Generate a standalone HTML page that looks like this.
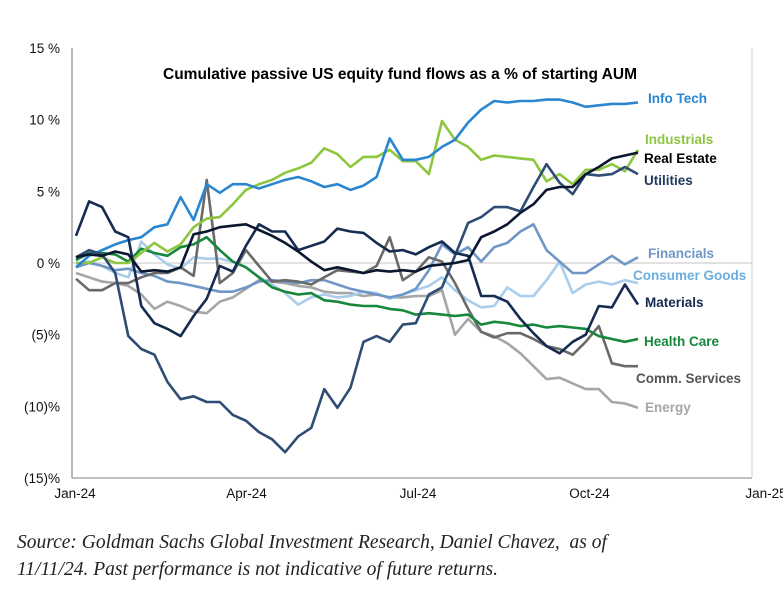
<!DOCTYPE html>
<html><head><meta charset="utf-8"><style>
body{margin:0;background:#fff;width:783px;height:607px;overflow:hidden;font-family:"Liberation Sans",sans-serif}
.src{position:absolute;left:17px;font-family:"Liberation Serif",serif;font-style:italic;font-size:19.5px;color:#222}
</style></head><body>
<svg id="chart" width="783" height="607" style="position:absolute;left:0;top:0"></svg>
<div class="src" style="top:532px">Source: Goldman Sachs Global Investment Research, Daniel Chavez,&nbsp; as of</div>
<div class="src" style="top:559px">11/11/24. Past performance is not indicative of future returns.</div>
<script>
const yTicks=[15,10,5,0,-5,-10,-15];
const yTickLabels=["15 %","10 %","5 %","0 %","(5)%","(10)%","(15)%"];
const xTicks=[0,1,2,3,4];
const xTickLabels=["Jan-24","Apr-24","Jul-24","Oct-24","Jan-25"];
const infoTech=[-0.3,0.5,0.9,1.3,1.6,1.8,2.5,2.7,4.6,3.0,5.5,4.9,5.5,5.5,5.2,5.5,5.8,6.0,5.7,5.3,5.5,5.1,5.4,6.0,8.7,7.2,7.2,7.4,8.1,8.6,9.8,10.7,11.3,11.2,11.3,11.3,11.4,11.4,11.2,10.9,11.0,11.1,11.1,11.2];
const industrials=[0,0,0.4,0,0,0.7,1.4,0.8,1.3,2.5,3.1,3.2,4.1,5.1,5.5,5.8,6.3,6.6,7.0,8.0,7.6,6.7,7.4,7.4,7.9,7.1,7.1,6.2,9.9,8.6,8.1,7.2,7.5,7.4,7.3,7.2,5.7,6.2,5.5,6.5,6.5,6.9,6.4,7.9];
const realEstate=[0.4,0.6,0.5,0.8,0.6,-0.6,-0.5,-0.6,-0.3,2.0,2.2,2.5,2.6,2.7,2.3,1.9,1.4,0.8,0.1,-0.5,-0.3,-0.5,-0.7,-0.5,-0.6,-0.5,-0.6,-0.2,-0.1,0,0.2,1.8,2.2,2.7,3.5,4.1,5.1,5.3,5.3,6.2,6.7,7.3,7.5,7.7];
const utilities=[0.4,0.9,0.6,-0.7,-5.1,-6.0,-6.4,-8.3,-9.5,-9.3,-9.7,-9.7,-10.6,-11.0,-11.8,-12.3,-13.2,-12.1,-11.5,-8.8,-10.1,-8.7,-5.5,-5.1,-5.5,-4.3,-4.2,-2.2,-1.7,0.5,2.8,3.2,3.9,3.9,3.6,5.3,6.9,5.6,4.8,6.2,6.1,6.2,6.7,6.2];
const financials=[-0.3,0,-0.2,-0.5,-0.4,-0.7,-0.9,-1.3,-1.4,-1.6,-1.8,-2.0,-2.0,-1.7,-1.3,-1.2,-1.3,-1.4,-1.2,-1.2,-1.5,-1.8,-2.0,-2.2,-2.4,-2.2,-1.8,-0.5,1.3,0.6,1.1,0.1,1.1,1.4,2.2,2.7,0.9,0.1,-0.7,-0.7,-0.1,0.5,-0.1,0.4];
const consumerGoods=[0,0.1,-0.2,-0.7,-1.0,1.5,0.6,-0.1,-0.4,0.4,0.3,0.3,0.1,-0.3,-1.0,-1.5,-2.1,-2.9,-2.4,-2.2,-2.4,-2.3,-2.0,-2.1,-2.5,-2.2,-1.9,-1.6,-1.0,-1.9,-2.6,-3.1,-3.0,-1.7,-2.3,-2.3,-1.2,0.1,-2.1,-1.5,-1.3,-1.5,-1.2,-1.4];
const materials=[1.9,4.3,3.9,2.2,1.8,-3.0,-4.2,-4.6,-5.1,-3.7,-2.5,-0.2,-0.6,1.2,2.7,2.2,2.2,0.9,1.2,1.5,2.4,2.2,2.1,1.4,0.8,0.9,0.6,1.1,1.5,0.7,0.5,-2.3,-2.3,-2.7,-3.9,-4.9,-5.8,-6.3,-5.5,-5.0,-3.0,-3.1,-1.5,-2.9];
const healthCare=[0.2,0.7,0.7,0.6,0.1,1.0,0.7,0.5,1.1,1.3,1.8,0.9,0.1,-0.3,-1.0,-1.7,-2.0,-2.2,-2.1,-2.6,-2.7,-2.9,-3.0,-3.0,-3.2,-3.3,-3.6,-3.5,-3.6,-3.7,-3.6,-4.3,-4.1,-4.2,-4.4,-4.3,-4.5,-4.4,-4.5,-4.6,-5.1,-5.3,-5.5,-5.3];
const commServices=[-1.1,-1.9,-1.9,-1.4,-1.4,-1.0,-0.7,-0.7,-0.3,-0.9,5.8,-1.4,-0.7,0.9,-0.2,-1.3,-1.2,-1.3,-1.5,-1.0,-0.5,-0.6,-0.7,-0.2,1.8,-1.2,-0.6,0.4,0.1,-1.4,-3.2,-4.8,-5.2,-4.9,-4.9,-5.3,-5.8,-6.0,-6.4,-5.5,-4.4,-7.0,-7.2,-7.2];
const energy=[-0.7,-1.0,-1.3,-1.4,-1.6,-2.2,-3.2,-2.7,-3.0,-3.4,-3.5,-2.7,-2.4,-1.8,-1.2,-1.3,-1.4,-1.6,-1.7,-2.0,-2.1,-2.1,-2.3,-2.2,-2.4,-2.4,-2.3,-2.3,-1.9,-5.0,-3.9,-4.8,-5.1,-5.6,-6.3,-7.2,-8.1,-8.0,-8.4,-8.8,-8.8,-9.7,-9.8,-10.1];

const svg=document.getElementById('chart');
const NS='http://www.w3.org/2000/svg';
const X0=72,X1=752,Y0=48,Y1=478;
const ys=v=>Y1-(v+15)/30*(Y1-Y0);
const xq=q=>75+q*171.5;
const xw=i=>76+i*13.07;
function mk(tag,attrs){const e=document.createElementNS(NS,tag);for(const k in attrs)e.setAttribute(k,attrs[k]);svg.appendChild(e);return e;}

const g0=mk('line',{x1:X0,x2:X1,y1:ys(0),y2:ys(0),stroke:'#d0d0d0','stroke-width':1.2});


const ya=mk('line',{x1:X0,x2:X0,y1:Y0,y2:Y1,stroke:'#888','stroke-width':1.2});


const xa=mk('line',{x1:X0,x2:X1,y1:Y1,y2:Y1,stroke:'#999','stroke-width':1.2});


const ra=mk('line',{x1:X1,x2:X1,y1:Y0,y2:Y1,stroke:'#ccc','stroke-width':1});



yTicks.forEach((v,i)=>{
  const t=mk('text',{x:60,y:ys(v)+5,'text-anchor':'end','font-size':13.5,fill:'#111','font-family':'Liberation Sans, sans-serif'});
  t.textContent=yTickLabels[i];
  
  
});
xTicks.forEach((q,i)=>{
  const t=mk('text',{x:xq(q)+(i===4?5:0),y:498,'text-anchor':'middle','font-size':13.5,fill:'#111','font-family':'Liberation Sans, sans-serif'});
  t.textContent=xTickLabels[i];
  
  
});

const title=mk('text',{x:400,y:79,'text-anchor':'middle','font-size':15.5,'font-weight':'bold',fill:'#000','font-family':'Liberation Sans, sans-serif'});
title.textContent='Cumulative passive US equity fund flows as a % of starting AUM';



const series=[
 ['energy',energy,'#a6a6a6','Energy',645,412,'#a6a6a6'],
 ['consumer-goods',consumerGoods,'#a9cdea','Consumer Goods',633,280,'#6aaee0'],
 ['financials',financials,'#6f97c6','Financials',648,258,'#6f97c6'],
 ['comm-services',commServices,'#6a6a6a','Comm. Services',636,383,'#555'],
 ['health-care',healthCare,'#17873c','Health Care',644,346,'#17873c'],
 ['industrials',industrials,'#8dc63f','Industrials',645,144,'#8dc63f'],
 ['info-tech',infoTech,'#2a86d1','Info Tech',648,103,'#2a86d1'],
 ['utilities',utilities,'#2e4c74','Utilities',644,185,'#1f3a60'],
 ['materials',materials,'#152b50','Materials',645,307,'#152b50'],
 ['real-estate',realEstate,'#0b1730','Real Estate',644,163,'#000']
];
series.forEach(([id,vals,col,label,lx,ly,lc])=>{
  const d=vals.map((v,i)=>(i?'L':'M')+xw(i).toFixed(1)+' '+ys(v).toFixed(1)).join(' ');
  const p=mk('path',{d:d,fill:'none',stroke:col,'stroke-width':2.6,'stroke-linejoin':'round'});
  
  
  const t=mk('text',{x:lx,y:ly,'font-size':13.5,'font-weight':'bold',fill:lc,'font-family':'Liberation Sans, sans-serif'});
  t.textContent=label;
  
  
});
</script>
</body></html>
